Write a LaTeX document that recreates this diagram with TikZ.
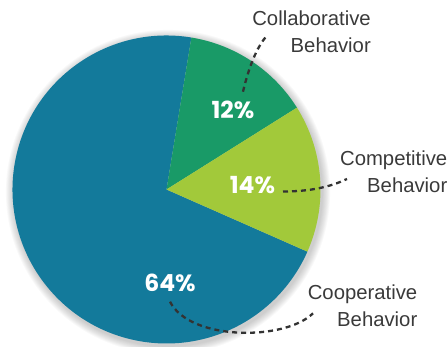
\documentclass[tikz,border=0pt]{standalone}
\usepackage{fontspec}
\setmainfont{Liberation Sans}
\newfontfamily\pctfont{Poppins}
\usetikzlibrary{calc}
\definecolor{pieblue}{HTML}{137A9B}
\definecolor{piegreen}{HTML}{199A67}
\definecolor{pielime}{HTML}{A2C93A}
\definecolor{labelgray}{HTML}{3A3A3A}
\definecolor{leadgray}{HTML}{333333}
\tikzset{
  lbl/.style={anchor=base east, inner sep=0pt, align=right, text=labelgray,
    font=\fontsize{20.3}{26.7}\selectfont},
  pct/.style={anchor=base, inner sep=0pt, text=white,
    font=\pctfont\bfseries\fontsize{23.5}{26}\selectfont},
  lead/.style={draw=leadgray, line width=2.3pt, dash pattern=on 5pt off 4pt}
}
\begin{document}
\begin{tikzpicture}[x=1pt,y=1pt]
\useasboundingbox (0,0) rectangle (448,347);
\coordinate (c) at (166.5,157.5);
% soft shadow
\foreach \i in {1,...,9}{
  \fill[black, opacity=0.022] ($(c)+(1.5,-2.5)$) circle ({154+\i*0.9});
}
% slices
\fill[pieblue] (c) -- ++(80.7:154) arc[start angle=80.7, end angle=336.2, radius=154] -- cycle;
\fill[piegreen] (c) -- ++(32.1:154) arc[start angle=32.1, end angle=80.7, radius=154] -- cycle;
\fill[pielime] (c) -- ++(-23.8:154) arc[start angle=-23.8, end angle=32.1, radius=154] -- cycle;
% percentages
\node[pct] (p12) at (233,228.7) {12\%};
\node[pct] (p14) at (252.5,153.7) {14\%};
\node[pct] (p64) at (170,55.3) {64\%};
% labels (anchor at baseline of the last line)
\node[lbl] (collab) at (371,294.3) {Collaborative\\Behavior};
\node[lbl] (compet) at (447.5,154.3) {Competitive\\Behavior};
\node[lbl] (coop) at (417.5,20.3) {Cooperative\\Behavior};
% leader coordinates
\coordinate (a1) at (243,255.3);
\coordinate (a2) at (266,310.3);
\coordinate (b1) at (283,155.5);
\coordinate (b2) at (347,168);
\coordinate (c1) at (170,45.3);
\coordinate (c2) at (313,33.7);
\draw[lead] (a1) .. controls (247,272) and (254,296) .. (a2);
\draw[lead] (b1) .. controls (310,155.5) and (330,160) .. (b2);
\draw[lead] (c1) .. controls (190,6) and (285,6) .. (c2);
\end{tikzpicture}
\end{document}
